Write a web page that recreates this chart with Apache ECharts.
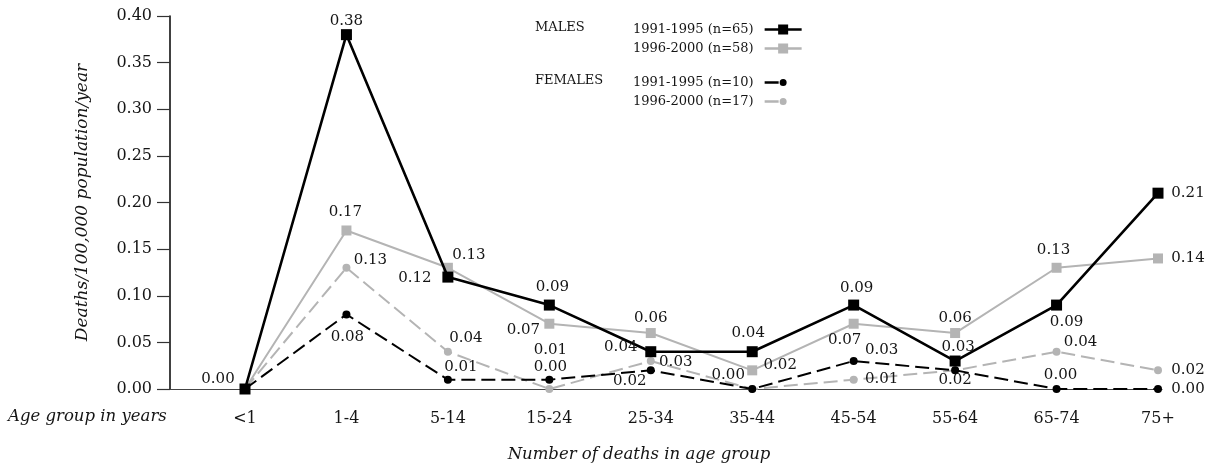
<!DOCTYPE html>
<html>
<head>
<meta charset="utf-8">
<script src="https://cdn.jsdelivr.net/npm/echarts@6/dist/echarts.min.js"></script>
<style>
  html, body { margin: 0; padding: 0; background: #fff; }
  #chart { width: 1214px; height: 468px; }
</style>
</head>
<body>
<div id="chart"></div>
<script>
const ageGroups = ['<1', '1-4', '5-14', '15-24', '25-34', '35-44', '45-54', '55-64', '65-74', '75+'];
const males1991 = [0.00, 0.38, 0.12, 0.09, 0.04, 0.04, 0.09, 0.03, 0.09, 0.21];
const males1996 = [0.00, 0.17, 0.13, 0.07, 0.06, 0.02, 0.07, 0.06, 0.13, 0.14];
const females1991 = [0.00, 0.08, 0.01, 0.01, 0.02, 0.00, 0.03, 0.02, 0.00, 0.00];
const females1996 = [0.00, 0.13, 0.04, 0.00, 0.03, 0.00, 0.01, 0.02, 0.04, 0.02];
const legendNames = ['1991-1995 (n=65)', '1996-2000 (n=58)', '1991-1995 (n=10)', '1996-2000 (n=17)'];
const yTicks = [0, 0.05, 0.10, 0.15, 0.20, 0.25, 0.30, 0.35, 0.40];

// where each value label sits, relative to its point (null = no label)
const labelOffsets = {
    m91: [[-27, -10], [0, -14], [-33, 1], [3, -18], [-30, -5], [-4, -19], [3, -17], [3, -14], [10, 17], [30, 0]],
    m96: [null, [-1, -18], [21, -13], [-26, 6], [0, -15], [28, -5], [-9, 16], [0, -15], [-3, -18], [30, 0]],
    f91: [null, [1, 23], [13, -13], [1, -30], [-21, 11], null, [28, -11], [0, 10], [4, -14], [30, 0]],
    f96: [null, [24, -8], [18, -14], [1, -22], [25, 1], [-24, -14], [28, -1], null, [24, -10], [30, 0]]
};

const FONT = 'DejaVu Serif';
const BLACK = '#000000';
const GREY = '#b4b4b4';
const TEXT = '#151515';

function withLabels(values, offsets) {
    return values.map((v, i) => {
        const off = offsets[i];
        return {
            value: v,
            label: off
                ? { show: true, position: 'inside', offset: off, formatter: () => v.toFixed(2) }
                : { show: false }
        };
    });
}

function lineSeries(name, values, offsets, color, symbol, size, width, dashed, z) {
    return {
        name,
        type: 'line',
        xAxisIndex: 1,
        yAxisIndex: 1,
        z,
        data: withLabels(values, offsets),
        symbol,
        symbolSize: size,
        showAllSymbol: true,
        itemStyle: { color },
        lineStyle: { color, width, type: dashed ? [14, 6] : 'solid' },
        label: { fontFamily: FONT, fontSize: 15, color: TEXT },
        emphasis: { disabled: true }
    };
}

const maleIcon = 'path://M0,3.8L37,3.8L37,6.2L0,6.2Z M13.5,0L23.5,0L23.5,10L13.5,10Z';
const femaleIcon = 'path://M0,2.3L14,2.3L14,4.7L0,4.7Z M15,3.5A3.5,3.5,0,1,0,22,3.5A3.5,3.5,0,1,0,15,3.5Z';

const chart = echarts.init(document.getElementById('chart'), null, { renderer: 'canvas' });

chart.setOption({
    animation: false,
    grid: [
        { left: 170, right: 52, top: 16, bottom: 79 },
        { left: 245, right: 56, top: 16, bottom: 79 }
    ],
    xAxis: [
        {
            type: 'value', gridIndex: 0, min: 0, max: 1,
            axisLine: { show: true, lineStyle: { color: '#444', width: 1.2 } },
            axisTick: { show: false }, axisLabel: { show: false }, splitLine: { show: false }
        },
        {
            type: 'category', gridIndex: 1, data: ageGroups, boundaryGap: false,
            axisLine: { show: false }, axisTick: { show: false }, splitLine: { show: false },
            axisLabel: { margin: 22, fontFamily: FONT, fontSize: 16, color: TEXT, interval: 0 }
        }
    ],
    yAxis: [
        {
            type: 'value', gridIndex: 0, min: 0, max: 0.4, interval: 0.05,
            axisLine: { show: true, lineStyle: { color: '#111', width: 1.6 } },
            axisTick: { show: true, length: 13, lineStyle: { color: '#333', width: 1.2 } },
            axisLabel: {
                margin: 18, fontFamily: FONT, fontSize: 16, color: TEXT,
                formatter: v => {
                    const t = yTicks.find(y => Math.abs(y - v) < 1e-6);
                    return (t !== undefined ? t : v).toFixed(2);
                }
            },
            splitLine: { show: false },
            name: 'Deaths/100,000 population/year',
            nameLocation: 'middle', nameGap: 79, nameRotate: 90,
            nameTextStyle: { fontFamily: FONT, fontSize: 17, fontStyle: 'italic', color: TEXT }
        },
        {
            type: 'value', gridIndex: 1, min: 0, max: 0.4, show: false
        }
    ],
    legend: [
        {
            orient: 'vertical', left: 628, top: 18, align: 'right', itemGap: 6,
            itemWidth: 37, itemHeight: 10,
            selectedMode: false,
            textStyle: { fontFamily: FONT, fontSize: 13, color: TEXT, padding: [0, 6, 0, 0] },
            data: [
                { name: legendNames[0], icon: maleIcon },
                { name: legendNames[1], icon: maleIcon }
            ]
        },
        {
            orient: 'vertical', left: 628, top: 71, align: 'right', itemGap: 6,
            itemWidth: 22, itemHeight: 7,
            selectedMode: false,
            textStyle: { fontFamily: FONT, fontSize: 13, color: TEXT, padding: [0, 6, 0, 0] },
            data: [
                { name: legendNames[2], icon: femaleIcon },
                { name: legendNames[3], icon: femaleIcon }
            ]
        }
    ],
    graphic: [
        { type: 'text', left: 535, top: 21, style: { text: 'MALES', font: '13px "DejaVu Serif"', fill: TEXT } },
        { type: 'text', left: 535, top: 74, style: { text: 'FEMALES', font: '13px "DejaVu Serif"', fill: TEXT } },
        { type: 'text', left: 8, top: 408, style: { text: 'Age group in years', font: 'italic 16.5px "DejaVu Serif"', fill: TEXT } },
        {
            type: 'text', x: 639, y: 455,
            style: { text: 'Number of deaths in age group', font: 'italic 16.5px "DejaVu Serif"', fill: TEXT, align: 'center', verticalAlign: 'middle' }
        }
    ],
    series: [
        lineSeries(legendNames[0], males1991, labelOffsets.m91, BLACK, 'rect', 11, 2.6, false, 6),
        lineSeries(legendNames[1], males1996, labelOffsets.m96, GREY, 'rect', 10, 2, false, 4),
        lineSeries(legendNames[2], females1991, labelOffsets.f91, BLACK, 'circle', 8, 2, true, 5),
        lineSeries(legendNames[3], females1996, labelOffsets.f96, GREY, 'circle', 8, 2, true, 3)
    ]
});
</script>
</body>
</html>
